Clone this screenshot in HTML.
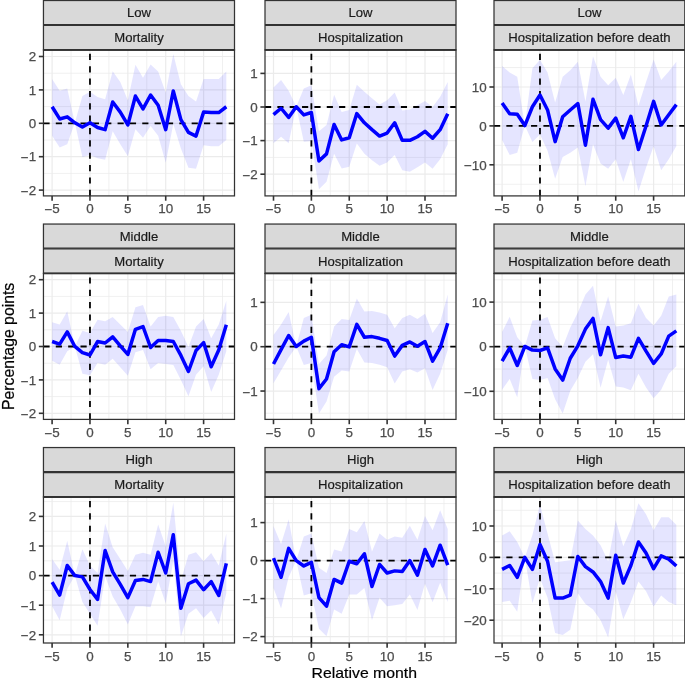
<!DOCTYPE html>
<html><head><meta charset="utf-8"><title>Event study plot</title><style>
html,body{margin:0;padding:0;background:#fff;}
body{width:685px;height:682px;overflow:hidden;}
svg{display:block;}
text{font-family:"Liberation Sans",Arial,Helvetica,sans-serif;}
.s{font-size:13.1px;fill:#1A1A1A;stroke:#1A1A1A;stroke-width:0.2px;text-anchor:middle;}
.ay{font-size:13.4px;fill:#4D4D4D;stroke:#4D4D4D;stroke-width:0.25px;text-anchor:end;}
.ax{font-size:13.4px;fill:#4D4D4D;stroke:#4D4D4D;stroke-width:0.25px;text-anchor:middle;}
.t{font-size:15.8px;fill:#000;stroke:#000;stroke-width:0.2px;}
</style></head>
<body>
<svg width="685" height="682" viewBox="0 0 685 682">
<rect x="0" y="0" width="685" height="682" fill="#FFFFFF"/>
<clipPath id="c00"><rect x="43.45" y="49.9" width="191.05" height="146"/></clipPath>
<g clip-path="url(#c00)">
<line x1="43.45" x2="234.5" y1="190.1" y2="190.1" stroke="#EBEBEB" stroke-width="1.2"/>
<line x1="43.45" x2="234.5" y1="173.4" y2="173.4" stroke="#EBEBEB" stroke-width="0.75"/>
<line x1="43.45" x2="234.5" y1="156.7" y2="156.7" stroke="#EBEBEB" stroke-width="1.2"/>
<line x1="43.45" x2="234.5" y1="140" y2="140" stroke="#EBEBEB" stroke-width="0.75"/>
<line x1="43.45" x2="234.5" y1="123.3" y2="123.3" stroke="#EBEBEB" stroke-width="1.2"/>
<line x1="43.45" x2="234.5" y1="106.6" y2="106.6" stroke="#EBEBEB" stroke-width="0.75"/>
<line x1="43.45" x2="234.5" y1="89.9" y2="89.9" stroke="#EBEBEB" stroke-width="1.2"/>
<line x1="43.45" x2="234.5" y1="73.2" y2="73.2" stroke="#EBEBEB" stroke-width="0.75"/>
<line x1="43.45" x2="234.5" y1="56.5" y2="56.5" stroke="#EBEBEB" stroke-width="1.2"/>
<line x1="52.1" x2="52.1" y1="49.9" y2="195.9" stroke="#EBEBEB" stroke-width="1.2"/>
<line x1="71.04" x2="71.04" y1="49.9" y2="195.9" stroke="#EBEBEB" stroke-width="0.75"/>
<line x1="89.97" x2="89.97" y1="49.9" y2="195.9" stroke="#EBEBEB" stroke-width="1.2"/>
<line x1="108.91" x2="108.91" y1="49.9" y2="195.9" stroke="#EBEBEB" stroke-width="0.75"/>
<line x1="127.85" x2="127.85" y1="49.9" y2="195.9" stroke="#EBEBEB" stroke-width="1.2"/>
<line x1="146.79" x2="146.79" y1="49.9" y2="195.9" stroke="#EBEBEB" stroke-width="0.75"/>
<line x1="165.72" x2="165.72" y1="49.9" y2="195.9" stroke="#EBEBEB" stroke-width="1.2"/>
<line x1="184.66" x2="184.66" y1="49.9" y2="195.9" stroke="#EBEBEB" stroke-width="0.75"/>
<line x1="203.6" x2="203.6" y1="49.9" y2="195.9" stroke="#EBEBEB" stroke-width="1.2"/>
<line x1="222.54" x2="222.54" y1="49.9" y2="195.9" stroke="#EBEBEB" stroke-width="0.75"/>
<polygon points="52.1,78.91 59.68,90.69 67.25,88.54 74.83,122.81 82.4,96.04 89.97,91.76 97.55,97.11 105.12,99.25 112.7,71.2 120.28,82.12 127.85,100.32 135.43,64.78 143,77.84 150.58,64.56 158.15,71.41 165.72,92.4 173.3,54.07 180.88,84.26 188.45,96.04 196.03,101.39 203.6,78.91 211.18,78.91 218.75,78.91 226.32,71.41 226.32,139.94 218.75,146.36 211.18,146.36 203.6,145.29 196.03,168.84 188.45,167.77 180.88,148.5 173.3,123.88 165.72,162.63 158.15,135.65 150.58,126.02 143,137.79 135.43,129.23 127.85,156.21 120.28,144.22 112.7,131.37 105.12,159.64 97.55,158.14 89.97,154.93 82.4,157.07 74.83,122.81 67.25,144.22 59.68,147.43 52.1,135.65" fill="#0000FF" fill-opacity="0.1"/>
<line x1="43.45" x2="234.5" y1="123.3" y2="123.3" stroke="#000" stroke-width="1.8" stroke-dasharray="6.175 6.175"/>
<line x1="89.97" x2="89.97" y1="195.9" y2="49.9" stroke="#000" stroke-width="1.8" stroke-dasharray="6.175 6.175"/>
<polyline points="52.1,106.75 59.68,118.95 67.25,116.81 74.83,122.81 82.4,127.09 89.97,122.81 97.55,127.52 105.12,129.66 112.7,102.03 120.28,112.1 127.85,124.95 135.43,96.04 143,108.89 150.58,94.97 158.15,105.25 165.72,129.66 173.3,90.9 180.88,119.59 188.45,132.44 196.03,136.08 203.6,112.1 211.18,112.53 218.75,112.53 226.32,106.75" fill="none" stroke="#0000FF" stroke-width="3.5" stroke-linejoin="round" stroke-linecap="butt"/>
</g>
<rect x="43.45" y="49.9" width="191.05" height="146" fill="none" stroke="#333333" stroke-width="1.25"/>
<rect x="43.45" y="0.5" width="191.05" height="49.4" fill="#D9D9D9" stroke="#333333" stroke-width="1.25"/>
<line x1="43.45" x2="234.5" y1="24.55" y2="24.55" stroke="#333333" stroke-width="1.25"/>
<line x1="43.45" x2="234.5" y1="25.45" y2="25.45" stroke="#333333" stroke-width="1.25"/>
<line x1="43.45" x2="234.5" y1="49.5" y2="49.5" stroke="#333333" stroke-width="1.25"/>
<line x1="43.45" x2="234.5" y1="50.2" y2="50.2" stroke="#333333" stroke-width="1.25"/>
<text x="138.97" y="17.4" class="s">Low</text>
<text x="138.97" y="42.05" class="s">Mortality</text>
<line x1="38.85" x2="43.45" y1="56.5" y2="56.5" stroke="#333333" stroke-width="1.6"/>
<text x="36.15" y="61.25" class="ay">2</text>
<line x1="38.85" x2="43.45" y1="89.9" y2="89.9" stroke="#333333" stroke-width="1.6"/>
<text x="36.15" y="94.65" class="ay">1</text>
<line x1="38.85" x2="43.45" y1="123.3" y2="123.3" stroke="#333333" stroke-width="1.6"/>
<text x="36.15" y="128.05" class="ay">0</text>
<line x1="38.85" x2="43.45" y1="156.7" y2="156.7" stroke="#333333" stroke-width="1.6"/>
<text x="36.15" y="161.45" class="ay"><tspan dy="0.9">−</tspan><tspan dy="-0.9">1</tspan></text>
<line x1="38.85" x2="43.45" y1="190.1" y2="190.1" stroke="#333333" stroke-width="1.6"/>
<text x="36.15" y="194.85" class="ay"><tspan dy="0.9">−</tspan><tspan dy="-0.9">2</tspan></text>
<line x1="52.1" x2="52.1" y1="195.9" y2="200.7" stroke="#333333" stroke-width="1.6"/>
<text x="52.1" y="213.4" class="ax"><tspan dy="0.9">−</tspan><tspan dy="-0.9">5</tspan></text>
<line x1="89.97" x2="89.97" y1="195.9" y2="200.7" stroke="#333333" stroke-width="1.6"/>
<text x="89.97" y="213.4" class="ax">0</text>
<line x1="127.85" x2="127.85" y1="195.9" y2="200.7" stroke="#333333" stroke-width="1.6"/>
<text x="127.85" y="213.4" class="ax">5</text>
<line x1="165.72" x2="165.72" y1="195.9" y2="200.7" stroke="#333333" stroke-width="1.6"/>
<text x="165.72" y="213.4" class="ax">10</text>
<line x1="203.6" x2="203.6" y1="195.9" y2="200.7" stroke="#333333" stroke-width="1.6"/>
<text x="203.6" y="213.4" class="ax">15</text>
<clipPath id="c01"><rect x="265" y="49.9" width="191" height="146"/></clipPath>
<g clip-path="url(#c01)">
<line x1="265" x2="456" y1="191" y2="191" stroke="#EBEBEB" stroke-width="0.75"/>
<line x1="265" x2="456" y1="174.2" y2="174.2" stroke="#EBEBEB" stroke-width="1.2"/>
<line x1="265" x2="456" y1="157.4" y2="157.4" stroke="#EBEBEB" stroke-width="0.75"/>
<line x1="265" x2="456" y1="140.6" y2="140.6" stroke="#EBEBEB" stroke-width="1.2"/>
<line x1="265" x2="456" y1="123.8" y2="123.8" stroke="#EBEBEB" stroke-width="0.75"/>
<line x1="265" x2="456" y1="107" y2="107" stroke="#EBEBEB" stroke-width="1.2"/>
<line x1="265" x2="456" y1="90.2" y2="90.2" stroke="#EBEBEB" stroke-width="0.75"/>
<line x1="265" x2="456" y1="73.4" y2="73.4" stroke="#EBEBEB" stroke-width="1.2"/>
<line x1="265" x2="456" y1="56.6" y2="56.6" stroke="#EBEBEB" stroke-width="0.75"/>
<line x1="273.5" x2="273.5" y1="49.9" y2="195.9" stroke="#EBEBEB" stroke-width="1.2"/>
<line x1="292.44" x2="292.44" y1="49.9" y2="195.9" stroke="#EBEBEB" stroke-width="0.75"/>
<line x1="311.38" x2="311.38" y1="49.9" y2="195.9" stroke="#EBEBEB" stroke-width="1.2"/>
<line x1="330.31" x2="330.31" y1="49.9" y2="195.9" stroke="#EBEBEB" stroke-width="0.75"/>
<line x1="349.25" x2="349.25" y1="49.9" y2="195.9" stroke="#EBEBEB" stroke-width="1.2"/>
<line x1="368.19" x2="368.19" y1="49.9" y2="195.9" stroke="#EBEBEB" stroke-width="0.75"/>
<line x1="387.12" x2="387.12" y1="49.9" y2="195.9" stroke="#EBEBEB" stroke-width="1.2"/>
<line x1="406.06" x2="406.06" y1="49.9" y2="195.9" stroke="#EBEBEB" stroke-width="0.75"/>
<line x1="425" x2="425" y1="49.9" y2="195.9" stroke="#EBEBEB" stroke-width="1.2"/>
<line x1="443.94" x2="443.94" y1="49.9" y2="195.9" stroke="#EBEBEB" stroke-width="0.75"/>
<polygon points="273.5,87.47 281.07,79.98 288.65,90.69 296.23,106.75 303.8,88.54 311.38,85.33 318.95,131.37 326.52,124.95 334.1,94.75 341.68,112.1 349.25,109.96 356.82,84.69 364.4,91.76 371.98,98.18 379.55,104.6 387.12,100.32 394.7,92.4 402.27,110.39 409.85,109.53 417.43,105.25 425,100.96 432.58,106.96 440.15,96.68 447.73,82.12 447.73,144.22 440.15,159.21 432.58,168.84 425,162.42 417.43,167.34 409.85,171.63 402.27,170.34 394.7,154.93 387.12,162.42 379.55,165.63 371.98,160.28 364.4,153.85 356.82,143.58 349.25,166.7 341.68,168.42 334.1,153.85 326.52,181.69 318.95,189.19 311.38,141.01 303.8,141.65 296.23,106.75 288.65,143.15 281.07,136.72 273.5,143.15" fill="#0000FF" fill-opacity="0.1"/>
<line x1="265" x2="456" y1="107" y2="107" stroke="#000" stroke-width="1.8" stroke-dasharray="6.175 6.175"/>
<line x1="311.38" x2="311.38" y1="195.9" y2="49.9" stroke="#000" stroke-width="1.8" stroke-dasharray="6.175 6.175"/>
<polyline points="273.5,114.67 281.07,108.24 288.65,117.45 296.23,106.75 303.8,114.88 311.38,112.53 318.95,160.92 326.52,153.85 334.1,124.52 341.68,139.94 349.25,137.79 356.82,113.6 364.4,122.81 371.98,129.66 379.55,136.08 387.12,133.08 394.7,122.81 402.27,140.36 409.85,140.36 417.43,136.72 425,131.37 432.58,138.22 440.15,129.66 447.73,113.81" fill="none" stroke="#0000FF" stroke-width="3.5" stroke-linejoin="round" stroke-linecap="butt"/>
</g>
<rect x="265" y="49.9" width="191" height="146" fill="none" stroke="#333333" stroke-width="1.25"/>
<rect x="265" y="0.5" width="191" height="49.4" fill="#D9D9D9" stroke="#333333" stroke-width="1.25"/>
<line x1="265" x2="456" y1="24.55" y2="24.55" stroke="#333333" stroke-width="1.25"/>
<line x1="265" x2="456" y1="25.45" y2="25.45" stroke="#333333" stroke-width="1.25"/>
<line x1="265" x2="456" y1="49.5" y2="49.5" stroke="#333333" stroke-width="1.25"/>
<line x1="265" x2="456" y1="50.2" y2="50.2" stroke="#333333" stroke-width="1.25"/>
<text x="360.5" y="17.4" class="s">Low</text>
<text x="360.5" y="42.05" class="s">Hospitalization</text>
<line x1="260.4" x2="265" y1="73.4" y2="73.4" stroke="#333333" stroke-width="1.6"/>
<text x="257.7" y="78.15" class="ay">1</text>
<line x1="260.4" x2="265" y1="107" y2="107" stroke="#333333" stroke-width="1.6"/>
<text x="257.7" y="111.75" class="ay">0</text>
<line x1="260.4" x2="265" y1="140.6" y2="140.6" stroke="#333333" stroke-width="1.6"/>
<text x="257.7" y="145.35" class="ay"><tspan dy="0.9">−</tspan><tspan dy="-0.9">1</tspan></text>
<line x1="260.4" x2="265" y1="174.2" y2="174.2" stroke="#333333" stroke-width="1.6"/>
<text x="257.7" y="178.95" class="ay"><tspan dy="0.9">−</tspan><tspan dy="-0.9">2</tspan></text>
<line x1="273.5" x2="273.5" y1="195.9" y2="200.7" stroke="#333333" stroke-width="1.6"/>
<text x="273.5" y="213.4" class="ax"><tspan dy="0.9">−</tspan><tspan dy="-0.9">5</tspan></text>
<line x1="311.38" x2="311.38" y1="195.9" y2="200.7" stroke="#333333" stroke-width="1.6"/>
<text x="311.38" y="213.4" class="ax">0</text>
<line x1="349.25" x2="349.25" y1="195.9" y2="200.7" stroke="#333333" stroke-width="1.6"/>
<text x="349.25" y="213.4" class="ax">5</text>
<line x1="387.12" x2="387.12" y1="195.9" y2="200.7" stroke="#333333" stroke-width="1.6"/>
<text x="387.12" y="213.4" class="ax">10</text>
<line x1="425" x2="425" y1="195.9" y2="200.7" stroke="#333333" stroke-width="1.6"/>
<text x="425" y="213.4" class="ax">15</text>
<clipPath id="c02"><rect x="494" y="49.9" width="190.8" height="146"/></clipPath>
<g clip-path="url(#c02)">
<line x1="494" x2="684.8" y1="184.25" y2="184.25" stroke="#EBEBEB" stroke-width="0.75"/>
<line x1="494" x2="684.8" y1="164.8" y2="164.8" stroke="#EBEBEB" stroke-width="1.2"/>
<line x1="494" x2="684.8" y1="145.35" y2="145.35" stroke="#EBEBEB" stroke-width="0.75"/>
<line x1="494" x2="684.8" y1="125.9" y2="125.9" stroke="#EBEBEB" stroke-width="1.2"/>
<line x1="494" x2="684.8" y1="106.45" y2="106.45" stroke="#EBEBEB" stroke-width="0.75"/>
<line x1="494" x2="684.8" y1="87" y2="87" stroke="#EBEBEB" stroke-width="1.2"/>
<line x1="494" x2="684.8" y1="67.55" y2="67.55" stroke="#EBEBEB" stroke-width="0.75"/>
<line x1="502.1" x2="502.1" y1="49.9" y2="195.9" stroke="#EBEBEB" stroke-width="1.2"/>
<line x1="521.04" x2="521.04" y1="49.9" y2="195.9" stroke="#EBEBEB" stroke-width="0.75"/>
<line x1="539.98" x2="539.98" y1="49.9" y2="195.9" stroke="#EBEBEB" stroke-width="1.2"/>
<line x1="558.91" x2="558.91" y1="49.9" y2="195.9" stroke="#EBEBEB" stroke-width="0.75"/>
<line x1="577.85" x2="577.85" y1="49.9" y2="195.9" stroke="#EBEBEB" stroke-width="1.2"/>
<line x1="596.79" x2="596.79" y1="49.9" y2="195.9" stroke="#EBEBEB" stroke-width="0.75"/>
<line x1="615.73" x2="615.73" y1="49.9" y2="195.9" stroke="#EBEBEB" stroke-width="1.2"/>
<line x1="634.66" x2="634.66" y1="49.9" y2="195.9" stroke="#EBEBEB" stroke-width="0.75"/>
<line x1="653.6" x2="653.6" y1="49.9" y2="195.9" stroke="#EBEBEB" stroke-width="1.2"/>
<line x1="672.54" x2="672.54" y1="49.9" y2="195.9" stroke="#EBEBEB" stroke-width="0.75"/>
<polygon points="502.1,66.06 509.68,72.48 517.25,76.77 524.83,125.59 532.4,68.2 539.98,59.64 547.55,72.48 555.12,102.46 562.7,76.77 570.27,70.34 577.85,61.78 585.43,101.39 593,56.21 600.58,76.77 608.15,85.33 615.73,77.84 623.3,94.97 630.88,74.41 638.45,105.67 646.03,82.12 653.6,59.42 661.18,79.98 668.75,71.41 676.33,61.78 676.33,146.36 668.75,159.21 661.18,170.13 653.6,146.36 646.03,167.77 638.45,191.54 630.88,159.21 623.3,181.91 615.73,159.21 608.15,168.84 600.58,163.49 593,144.22 585.43,186.19 577.85,147.43 570.27,152.78 562.7,157.07 555.12,178.69 547.55,150.64 539.98,134.58 532.4,142.08 524.83,125.59 517.25,152.78 509.68,154.93 502.1,139.94" fill="#0000FF" fill-opacity="0.1"/>
<line x1="494" x2="684.8" y1="125.9" y2="125.9" stroke="#000" stroke-width="1.8" stroke-dasharray="6.175 6.175"/>
<line x1="539.98" x2="539.98" y1="195.9" y2="49.9" stroke="#000" stroke-width="1.8" stroke-dasharray="6.175 6.175"/>
<polyline points="502.1,103.1 509.68,113.81 517.25,114.24 524.83,125.59 532.4,106.75 539.98,94.97 547.55,109.96 555.12,141.65 562.7,116.81 570.27,109.96 577.85,103.53 585.43,145.29 593,99.25 600.58,119.59 608.15,128.16 615.73,118.09 623.3,137.79 630.88,116.38 638.45,149.57 646.03,126.02 653.6,101.39 661.18,124.95 668.75,114.67 676.33,104.6" fill="none" stroke="#0000FF" stroke-width="3.5" stroke-linejoin="round" stroke-linecap="butt"/>
</g>
<rect x="494" y="49.9" width="190.8" height="146" fill="none" stroke="#333333" stroke-width="1.25"/>
<rect x="494" y="0.5" width="190.8" height="49.4" fill="#D9D9D9" stroke="#333333" stroke-width="1.25"/>
<line x1="494" x2="684.8" y1="24.55" y2="24.55" stroke="#333333" stroke-width="1.25"/>
<line x1="494" x2="684.8" y1="25.45" y2="25.45" stroke="#333333" stroke-width="1.25"/>
<line x1="494" x2="684.8" y1="49.5" y2="49.5" stroke="#333333" stroke-width="1.25"/>
<line x1="494" x2="684.8" y1="50.2" y2="50.2" stroke="#333333" stroke-width="1.25"/>
<text x="589.4" y="17.4" class="s">Low</text>
<text x="589.4" y="42.05" class="s">Hospitalization before death</text>
<line x1="489.4" x2="494" y1="87" y2="87" stroke="#333333" stroke-width="1.6"/>
<text x="486.7" y="91.75" class="ay">10</text>
<line x1="489.4" x2="494" y1="125.9" y2="125.9" stroke="#333333" stroke-width="1.6"/>
<text x="486.7" y="130.65" class="ay">0</text>
<line x1="489.4" x2="494" y1="164.8" y2="164.8" stroke="#333333" stroke-width="1.6"/>
<text x="486.7" y="169.55" class="ay"><tspan dy="0.9">−</tspan><tspan dy="-0.9">10</tspan></text>
<line x1="502.1" x2="502.1" y1="195.9" y2="200.7" stroke="#333333" stroke-width="1.6"/>
<text x="502.1" y="213.4" class="ax"><tspan dy="0.9">−</tspan><tspan dy="-0.9">5</tspan></text>
<line x1="539.98" x2="539.98" y1="195.9" y2="200.7" stroke="#333333" stroke-width="1.6"/>
<text x="539.98" y="213.4" class="ax">0</text>
<line x1="577.85" x2="577.85" y1="195.9" y2="200.7" stroke="#333333" stroke-width="1.6"/>
<text x="577.85" y="213.4" class="ax">5</text>
<line x1="615.73" x2="615.73" y1="195.9" y2="200.7" stroke="#333333" stroke-width="1.6"/>
<text x="615.73" y="213.4" class="ax">10</text>
<line x1="653.6" x2="653.6" y1="195.9" y2="200.7" stroke="#333333" stroke-width="1.6"/>
<text x="653.6" y="213.4" class="ax">15</text>
<clipPath id="c10"><rect x="43.45" y="273.4" width="191.05" height="146"/></clipPath>
<g clip-path="url(#c10)">
<line x1="43.45" x2="234.5" y1="413.3" y2="413.3" stroke="#EBEBEB" stroke-width="1.2"/>
<line x1="43.45" x2="234.5" y1="396.6" y2="396.6" stroke="#EBEBEB" stroke-width="0.75"/>
<line x1="43.45" x2="234.5" y1="379.9" y2="379.9" stroke="#EBEBEB" stroke-width="1.2"/>
<line x1="43.45" x2="234.5" y1="363.2" y2="363.2" stroke="#EBEBEB" stroke-width="0.75"/>
<line x1="43.45" x2="234.5" y1="346.5" y2="346.5" stroke="#EBEBEB" stroke-width="1.2"/>
<line x1="43.45" x2="234.5" y1="329.8" y2="329.8" stroke="#EBEBEB" stroke-width="0.75"/>
<line x1="43.45" x2="234.5" y1="313.1" y2="313.1" stroke="#EBEBEB" stroke-width="1.2"/>
<line x1="43.45" x2="234.5" y1="296.4" y2="296.4" stroke="#EBEBEB" stroke-width="0.75"/>
<line x1="43.45" x2="234.5" y1="279.7" y2="279.7" stroke="#EBEBEB" stroke-width="1.2"/>
<line x1="52.1" x2="52.1" y1="273.4" y2="419.4" stroke="#EBEBEB" stroke-width="1.2"/>
<line x1="71.04" x2="71.04" y1="273.4" y2="419.4" stroke="#EBEBEB" stroke-width="0.75"/>
<line x1="89.97" x2="89.97" y1="273.4" y2="419.4" stroke="#EBEBEB" stroke-width="1.2"/>
<line x1="108.91" x2="108.91" y1="273.4" y2="419.4" stroke="#EBEBEB" stroke-width="0.75"/>
<line x1="127.85" x2="127.85" y1="273.4" y2="419.4" stroke="#EBEBEB" stroke-width="1.2"/>
<line x1="146.79" x2="146.79" y1="273.4" y2="419.4" stroke="#EBEBEB" stroke-width="0.75"/>
<line x1="165.72" x2="165.72" y1="273.4" y2="419.4" stroke="#EBEBEB" stroke-width="1.2"/>
<line x1="184.66" x2="184.66" y1="273.4" y2="419.4" stroke="#EBEBEB" stroke-width="0.75"/>
<line x1="203.6" x2="203.6" y1="273.4" y2="419.4" stroke="#EBEBEB" stroke-width="1.2"/>
<line x1="222.54" x2="222.54" y1="273.4" y2="419.4" stroke="#EBEBEB" stroke-width="0.75"/>
<polygon points="52.1,322.25 59.68,324.39 67.25,311.33 74.83,346.45 82.4,330.82 89.97,332.96 97.55,319.68 105.12,321.18 112.7,316.9 120.28,324.39 127.85,331.89 135.43,307.26 143,305.12 150.58,326.53 158.15,316.9 165.72,315.83 173.3,316.9 180.88,330.82 188.45,346.88 196.03,326.53 203.6,319.04 211.18,338.31 218.75,324.39 226.32,300.84 226.32,351.16 218.75,374.71 211.18,392.06 203.6,366.15 196.03,374.71 188.45,396.34 180.88,380.07 173.3,365.08 165.72,364.01 158.15,362.94 150.58,369.36 143,350.09 135.43,352.23 127.85,375.78 120.28,367.22 112.7,358.65 105.12,364.65 97.55,362.94 89.97,375.36 82.4,373.64 74.83,346.45 67.25,351.16 59.68,364.65 52.1,360.79" fill="#0000FF" fill-opacity="0.1"/>
<line x1="43.45" x2="234.5" y1="346.5" y2="346.5" stroke="#000" stroke-width="1.8" stroke-dasharray="6.175 6.175"/>
<line x1="89.97" x2="89.97" y1="419.4" y2="273.4" stroke="#000" stroke-width="1.8" stroke-dasharray="6.175 6.175"/>
<polyline points="52.1,341.52 59.68,344.09 67.25,331.89 74.83,346.45 82.4,352.66 89.97,355.01 97.55,341.52 105.12,343.02 112.7,336.81 120.28,345.81 127.85,354.37 135.43,329.32 143,326.53 150.58,347.52 158.15,340.45 165.72,340.45 173.3,341.52 180.88,355.44 188.45,371.5 196.03,350.52 203.6,342.59 211.18,366.79 218.75,350.09 226.32,324.82" fill="none" stroke="#0000FF" stroke-width="3.5" stroke-linejoin="round" stroke-linecap="butt"/>
</g>
<rect x="43.45" y="273.4" width="191.05" height="146" fill="none" stroke="#333333" stroke-width="1.25"/>
<rect x="43.45" y="224.05" width="191.05" height="49.35" fill="#D9D9D9" stroke="#333333" stroke-width="1.25"/>
<line x1="43.45" x2="234.5" y1="248.05" y2="248.05" stroke="#333333" stroke-width="1.25"/>
<line x1="43.45" x2="234.5" y1="248.95" y2="248.95" stroke="#333333" stroke-width="1.25"/>
<line x1="43.45" x2="234.5" y1="273" y2="273" stroke="#333333" stroke-width="1.25"/>
<line x1="43.45" x2="234.5" y1="273.7" y2="273.7" stroke="#333333" stroke-width="1.25"/>
<text x="138.97" y="240.93" class="s">Middle</text>
<text x="138.97" y="265.55" class="s">Mortality</text>
<line x1="38.85" x2="43.45" y1="279.7" y2="279.7" stroke="#333333" stroke-width="1.6"/>
<text x="36.15" y="284.45" class="ay">2</text>
<line x1="38.85" x2="43.45" y1="313.1" y2="313.1" stroke="#333333" stroke-width="1.6"/>
<text x="36.15" y="317.85" class="ay">1</text>
<line x1="38.85" x2="43.45" y1="346.5" y2="346.5" stroke="#333333" stroke-width="1.6"/>
<text x="36.15" y="351.25" class="ay">0</text>
<line x1="38.85" x2="43.45" y1="379.9" y2="379.9" stroke="#333333" stroke-width="1.6"/>
<text x="36.15" y="384.65" class="ay"><tspan dy="0.9">−</tspan><tspan dy="-0.9">1</tspan></text>
<line x1="38.85" x2="43.45" y1="413.3" y2="413.3" stroke="#333333" stroke-width="1.6"/>
<text x="36.15" y="418.05" class="ay"><tspan dy="0.9">−</tspan><tspan dy="-0.9">2</tspan></text>
<line x1="52.1" x2="52.1" y1="419.4" y2="424.2" stroke="#333333" stroke-width="1.6"/>
<text x="52.1" y="436.9" class="ax"><tspan dy="0.9">−</tspan><tspan dy="-0.9">5</tspan></text>
<line x1="89.97" x2="89.97" y1="419.4" y2="424.2" stroke="#333333" stroke-width="1.6"/>
<text x="89.97" y="436.9" class="ax">0</text>
<line x1="127.85" x2="127.85" y1="419.4" y2="424.2" stroke="#333333" stroke-width="1.6"/>
<text x="127.85" y="436.9" class="ax">5</text>
<line x1="165.72" x2="165.72" y1="419.4" y2="424.2" stroke="#333333" stroke-width="1.6"/>
<text x="165.72" y="436.9" class="ax">10</text>
<line x1="203.6" x2="203.6" y1="419.4" y2="424.2" stroke="#333333" stroke-width="1.6"/>
<text x="203.6" y="436.9" class="ax">15</text>
<clipPath id="c11"><rect x="265" y="273.4" width="191" height="146"/></clipPath>
<g clip-path="url(#c11)">
<line x1="265" x2="456" y1="413.23" y2="413.23" stroke="#EBEBEB" stroke-width="0.75"/>
<line x1="265" x2="456" y1="391.05" y2="391.05" stroke="#EBEBEB" stroke-width="1.2"/>
<line x1="265" x2="456" y1="368.88" y2="368.88" stroke="#EBEBEB" stroke-width="0.75"/>
<line x1="265" x2="456" y1="346.7" y2="346.7" stroke="#EBEBEB" stroke-width="1.2"/>
<line x1="265" x2="456" y1="324.52" y2="324.52" stroke="#EBEBEB" stroke-width="0.75"/>
<line x1="265" x2="456" y1="302.35" y2="302.35" stroke="#EBEBEB" stroke-width="1.2"/>
<line x1="265" x2="456" y1="280.17" y2="280.17" stroke="#EBEBEB" stroke-width="0.75"/>
<line x1="273.5" x2="273.5" y1="273.4" y2="419.4" stroke="#EBEBEB" stroke-width="1.2"/>
<line x1="292.44" x2="292.44" y1="273.4" y2="419.4" stroke="#EBEBEB" stroke-width="0.75"/>
<line x1="311.38" x2="311.38" y1="273.4" y2="419.4" stroke="#EBEBEB" stroke-width="1.2"/>
<line x1="330.31" x2="330.31" y1="273.4" y2="419.4" stroke="#EBEBEB" stroke-width="0.75"/>
<line x1="349.25" x2="349.25" y1="273.4" y2="419.4" stroke="#EBEBEB" stroke-width="1.2"/>
<line x1="368.19" x2="368.19" y1="273.4" y2="419.4" stroke="#EBEBEB" stroke-width="0.75"/>
<line x1="387.12" x2="387.12" y1="273.4" y2="419.4" stroke="#EBEBEB" stroke-width="1.2"/>
<line x1="406.06" x2="406.06" y1="273.4" y2="419.4" stroke="#EBEBEB" stroke-width="0.75"/>
<line x1="425" x2="425" y1="273.4" y2="419.4" stroke="#EBEBEB" stroke-width="1.2"/>
<line x1="443.94" x2="443.94" y1="273.4" y2="419.4" stroke="#EBEBEB" stroke-width="0.75"/>
<polygon points="273.5,335.1 281.07,324.39 288.65,311.97 296.23,346.45 303.8,317.97 311.38,314.76 318.95,364.01 326.52,355.44 334.1,326.53 341.68,319.04 349.25,320.11 356.82,298.48 364.4,311.54 371.98,311.12 379.55,312.61 387.12,314.76 394.7,328.25 402.27,317.97 409.85,314.76 417.43,319.04 425,313.69 432.58,332.96 440.15,322.25 447.73,294.41 447.73,350.09 440.15,373.64 432.58,389.92 425,368.29 417.43,372.57 409.85,369.36 402.27,371.5 394.7,383.49 387.12,367.22 379.55,364.65 371.98,362.94 364.4,362.51 356.82,349.02 349.25,371.5 341.68,370.43 334.1,376.85 326.52,401.48 318.95,413.47 311.38,362.94 303.8,365.08 296.23,346.45 288.65,357.58 281.07,370.43 273.5,383.28" fill="#0000FF" fill-opacity="0.1"/>
<line x1="265" x2="456" y1="346.7" y2="346.7" stroke="#000" stroke-width="1.8" stroke-dasharray="6.175 6.175"/>
<line x1="311.38" x2="311.38" y1="419.4" y2="273.4" stroke="#000" stroke-width="1.8" stroke-dasharray="6.175 6.175"/>
<polyline points="273.5,364.01 281.07,349.66 288.65,335.53 296.23,346.45 303.8,341.09 311.38,337.24 318.95,388.63 326.52,379 334.1,351.8 341.68,344.73 349.25,346.88 356.82,324.39 364.4,337.24 371.98,336.6 379.55,338.31 387.12,340.45 394.7,356.08 402.27,345.38 409.85,341.95 417.43,346.23 425,341.52 432.58,361.22 440.15,347.95 447.73,323.32" fill="none" stroke="#0000FF" stroke-width="3.5" stroke-linejoin="round" stroke-linecap="butt"/>
</g>
<rect x="265" y="273.4" width="191" height="146" fill="none" stroke="#333333" stroke-width="1.25"/>
<rect x="265" y="224.05" width="191" height="49.35" fill="#D9D9D9" stroke="#333333" stroke-width="1.25"/>
<line x1="265" x2="456" y1="248.05" y2="248.05" stroke="#333333" stroke-width="1.25"/>
<line x1="265" x2="456" y1="248.95" y2="248.95" stroke="#333333" stroke-width="1.25"/>
<line x1="265" x2="456" y1="273" y2="273" stroke="#333333" stroke-width="1.25"/>
<line x1="265" x2="456" y1="273.7" y2="273.7" stroke="#333333" stroke-width="1.25"/>
<text x="360.5" y="240.93" class="s">Middle</text>
<text x="360.5" y="265.55" class="s">Hospitalization</text>
<line x1="260.4" x2="265" y1="302.35" y2="302.35" stroke="#333333" stroke-width="1.6"/>
<text x="257.7" y="307.1" class="ay">1</text>
<line x1="260.4" x2="265" y1="346.7" y2="346.7" stroke="#333333" stroke-width="1.6"/>
<text x="257.7" y="351.45" class="ay">0</text>
<line x1="260.4" x2="265" y1="391.05" y2="391.05" stroke="#333333" stroke-width="1.6"/>
<text x="257.7" y="395.8" class="ay"><tspan dy="0.9">−</tspan><tspan dy="-0.9">1</tspan></text>
<line x1="273.5" x2="273.5" y1="419.4" y2="424.2" stroke="#333333" stroke-width="1.6"/>
<text x="273.5" y="436.9" class="ax"><tspan dy="0.9">−</tspan><tspan dy="-0.9">5</tspan></text>
<line x1="311.38" x2="311.38" y1="419.4" y2="424.2" stroke="#333333" stroke-width="1.6"/>
<text x="311.38" y="436.9" class="ax">0</text>
<line x1="349.25" x2="349.25" y1="419.4" y2="424.2" stroke="#333333" stroke-width="1.6"/>
<text x="349.25" y="436.9" class="ax">5</text>
<line x1="387.12" x2="387.12" y1="419.4" y2="424.2" stroke="#333333" stroke-width="1.6"/>
<text x="387.12" y="436.9" class="ax">10</text>
<line x1="425" x2="425" y1="419.4" y2="424.2" stroke="#333333" stroke-width="1.6"/>
<text x="425" y="436.9" class="ax">15</text>
<clipPath id="c12"><rect x="494" y="273.4" width="190.8" height="146"/></clipPath>
<g clip-path="url(#c12)">
<line x1="494" x2="684.8" y1="413.6" y2="413.6" stroke="#EBEBEB" stroke-width="0.75"/>
<line x1="494" x2="684.8" y1="391.3" y2="391.3" stroke="#EBEBEB" stroke-width="1.2"/>
<line x1="494" x2="684.8" y1="369" y2="369" stroke="#EBEBEB" stroke-width="0.75"/>
<line x1="494" x2="684.8" y1="346.7" y2="346.7" stroke="#EBEBEB" stroke-width="1.2"/>
<line x1="494" x2="684.8" y1="324.4" y2="324.4" stroke="#EBEBEB" stroke-width="0.75"/>
<line x1="494" x2="684.8" y1="302.1" y2="302.1" stroke="#EBEBEB" stroke-width="1.2"/>
<line x1="494" x2="684.8" y1="279.8" y2="279.8" stroke="#EBEBEB" stroke-width="0.75"/>
<line x1="502.1" x2="502.1" y1="273.4" y2="419.4" stroke="#EBEBEB" stroke-width="1.2"/>
<line x1="521.04" x2="521.04" y1="273.4" y2="419.4" stroke="#EBEBEB" stroke-width="0.75"/>
<line x1="539.98" x2="539.98" y1="273.4" y2="419.4" stroke="#EBEBEB" stroke-width="1.2"/>
<line x1="558.91" x2="558.91" y1="273.4" y2="419.4" stroke="#EBEBEB" stroke-width="0.75"/>
<line x1="577.85" x2="577.85" y1="273.4" y2="419.4" stroke="#EBEBEB" stroke-width="1.2"/>
<line x1="596.79" x2="596.79" y1="273.4" y2="419.4" stroke="#EBEBEB" stroke-width="0.75"/>
<line x1="615.73" x2="615.73" y1="273.4" y2="419.4" stroke="#EBEBEB" stroke-width="1.2"/>
<line x1="634.66" x2="634.66" y1="273.4" y2="419.4" stroke="#EBEBEB" stroke-width="0.75"/>
<line x1="653.6" x2="653.6" y1="273.4" y2="419.4" stroke="#EBEBEB" stroke-width="1.2"/>
<line x1="672.54" x2="672.54" y1="273.4" y2="419.4" stroke="#EBEBEB" stroke-width="0.75"/>
<polygon points="502.1,331.89 509.68,316.68 517.25,337.24 524.83,346.45 532.4,320.54 539.98,319.68 547.55,316.9 555.12,338.31 562.7,346.88 570.27,327.6 577.85,312.61 585.43,294.41 593,285.85 600.58,321.18 608.15,296.34 615.73,326.53 623.3,325.46 630.88,323.32 638.45,303.84 646.03,317.97 653.6,325.46 661.18,315.83 668.75,296.55 676.33,294.41 676.33,366.15 668.75,373.64 661.18,389.7 653.6,398.27 646.03,387.56 638.45,373.64 630.88,390.34 623.3,387.56 615.73,386.49 608.15,359.72 600.58,387.78 593,354.37 585.43,361.87 577.85,377.93 570.27,390.77 562.7,413.47 555.12,399.34 547.55,377.93 539.98,380.07 532.4,379 524.83,346.45 517.25,397.41 509.68,379 502.1,389.7" fill="#0000FF" fill-opacity="0.1"/>
<line x1="494" x2="684.8" y1="346.7" y2="346.7" stroke="#000" stroke-width="1.8" stroke-dasharray="6.175 6.175"/>
<line x1="539.98" x2="539.98" y1="419.4" y2="273.4" stroke="#000" stroke-width="1.8" stroke-dasharray="6.175 6.175"/>
<polyline points="502.1,361.22 509.68,347.95 517.25,365.51 524.83,346.45 532.4,350.09 539.98,350.52 547.55,347.95 555.12,368.93 562.7,380.07 570.27,358.22 577.85,345.81 585.43,329.1 593,318.4 600.58,354.8 608.15,327.6 615.73,357.58 623.3,356.08 630.88,357.15 638.45,338.31 646.03,351.16 653.6,363.36 661.18,353.94 668.75,336.17 676.33,330.82" fill="none" stroke="#0000FF" stroke-width="3.5" stroke-linejoin="round" stroke-linecap="butt"/>
</g>
<rect x="494" y="273.4" width="190.8" height="146" fill="none" stroke="#333333" stroke-width="1.25"/>
<rect x="494" y="224.05" width="190.8" height="49.35" fill="#D9D9D9" stroke="#333333" stroke-width="1.25"/>
<line x1="494" x2="684.8" y1="248.05" y2="248.05" stroke="#333333" stroke-width="1.25"/>
<line x1="494" x2="684.8" y1="248.95" y2="248.95" stroke="#333333" stroke-width="1.25"/>
<line x1="494" x2="684.8" y1="273" y2="273" stroke="#333333" stroke-width="1.25"/>
<line x1="494" x2="684.8" y1="273.7" y2="273.7" stroke="#333333" stroke-width="1.25"/>
<text x="589.4" y="240.93" class="s">Middle</text>
<text x="589.4" y="265.55" class="s">Hospitalization before death</text>
<line x1="489.4" x2="494" y1="302.1" y2="302.1" stroke="#333333" stroke-width="1.6"/>
<text x="486.7" y="306.85" class="ay">10</text>
<line x1="489.4" x2="494" y1="346.7" y2="346.7" stroke="#333333" stroke-width="1.6"/>
<text x="486.7" y="351.45" class="ay">0</text>
<line x1="489.4" x2="494" y1="391.3" y2="391.3" stroke="#333333" stroke-width="1.6"/>
<text x="486.7" y="396.05" class="ay"><tspan dy="0.9">−</tspan><tspan dy="-0.9">10</tspan></text>
<line x1="502.1" x2="502.1" y1="419.4" y2="424.2" stroke="#333333" stroke-width="1.6"/>
<text x="502.1" y="436.9" class="ax"><tspan dy="0.9">−</tspan><tspan dy="-0.9">5</tspan></text>
<line x1="539.98" x2="539.98" y1="419.4" y2="424.2" stroke="#333333" stroke-width="1.6"/>
<text x="539.98" y="436.9" class="ax">0</text>
<line x1="577.85" x2="577.85" y1="419.4" y2="424.2" stroke="#333333" stroke-width="1.6"/>
<text x="577.85" y="436.9" class="ax">5</text>
<line x1="615.73" x2="615.73" y1="419.4" y2="424.2" stroke="#333333" stroke-width="1.6"/>
<text x="615.73" y="436.9" class="ax">10</text>
<line x1="653.6" x2="653.6" y1="419.4" y2="424.2" stroke="#333333" stroke-width="1.6"/>
<text x="653.6" y="436.9" class="ax">15</text>
<clipPath id="c20"><rect x="43.45" y="497" width="191.05" height="146"/></clipPath>
<g clip-path="url(#c20)">
<line x1="43.45" x2="234.5" y1="634.8" y2="634.8" stroke="#EBEBEB" stroke-width="1.2"/>
<line x1="43.45" x2="234.5" y1="620" y2="620" stroke="#EBEBEB" stroke-width="0.75"/>
<line x1="43.45" x2="234.5" y1="605.2" y2="605.2" stroke="#EBEBEB" stroke-width="1.2"/>
<line x1="43.45" x2="234.5" y1="590.4" y2="590.4" stroke="#EBEBEB" stroke-width="0.75"/>
<line x1="43.45" x2="234.5" y1="575.6" y2="575.6" stroke="#EBEBEB" stroke-width="1.2"/>
<line x1="43.45" x2="234.5" y1="560.8" y2="560.8" stroke="#EBEBEB" stroke-width="0.75"/>
<line x1="43.45" x2="234.5" y1="546" y2="546" stroke="#EBEBEB" stroke-width="1.2"/>
<line x1="43.45" x2="234.5" y1="531.2" y2="531.2" stroke="#EBEBEB" stroke-width="0.75"/>
<line x1="43.45" x2="234.5" y1="516.4" y2="516.4" stroke="#EBEBEB" stroke-width="1.2"/>
<line x1="43.45" x2="234.5" y1="501.6" y2="501.6" stroke="#EBEBEB" stroke-width="0.75"/>
<line x1="52.1" x2="52.1" y1="497" y2="643" stroke="#EBEBEB" stroke-width="1.2"/>
<line x1="71.04" x2="71.04" y1="497" y2="643" stroke="#EBEBEB" stroke-width="0.75"/>
<line x1="89.97" x2="89.97" y1="497" y2="643" stroke="#EBEBEB" stroke-width="1.2"/>
<line x1="108.91" x2="108.91" y1="497" y2="643" stroke="#EBEBEB" stroke-width="0.75"/>
<line x1="127.85" x2="127.85" y1="497" y2="643" stroke="#EBEBEB" stroke-width="1.2"/>
<line x1="146.79" x2="146.79" y1="497" y2="643" stroke="#EBEBEB" stroke-width="0.75"/>
<line x1="165.72" x2="165.72" y1="497" y2="643" stroke="#EBEBEB" stroke-width="1.2"/>
<line x1="184.66" x2="184.66" y1="497" y2="643" stroke="#EBEBEB" stroke-width="0.75"/>
<line x1="203.6" x2="203.6" y1="497" y2="643" stroke="#EBEBEB" stroke-width="1.2"/>
<line x1="222.54" x2="222.54" y1="497" y2="643" stroke="#EBEBEB" stroke-width="0.75"/>
<polygon points="52.1,559.1 59.68,569.81 67.25,540.68 74.83,575.59 82.4,549.25 89.97,565.52 97.55,573.02 105.12,523.55 112.7,547.32 120.28,559.1 127.85,570.88 135.43,554.82 143,552.67 150.58,554.82 158.15,524.62 165.72,546.25 173.3,502.57 180.88,580.51 188.45,554.82 196.03,552.25 203.6,561.24 211.18,553.1 218.75,565.52 226.32,533.4 226.32,593.36 218.75,624.62 211.18,610.49 203.6,617.99 196.03,608.35 188.45,613.7 180.88,636.4 173.3,561.24 165.72,603.21 158.15,581.58 150.58,607.28 143,606.21 135.43,606.21 127.85,624.62 120.28,609.42 112.7,596.57 105.12,576.23 97.55,625.69 89.97,613.7 82.4,601.93 74.83,575.59 67.25,589.08 59.68,620.34 52.1,606.21" fill="#0000FF" fill-opacity="0.1"/>
<line x1="43.45" x2="234.5" y1="575.6" y2="575.6" stroke="#000" stroke-width="1.8" stroke-dasharray="6.175 6.175"/>
<line x1="89.97" x2="89.97" y1="643" y2="497" stroke="#000" stroke-width="1.8" stroke-dasharray="6.175 6.175"/>
<polyline points="52.1,582.22 59.68,595.07 67.25,565.52 74.83,575.59 82.4,576.87 89.97,589.51 97.55,599.36 105.12,550.53 112.7,571.95 120.28,584.37 127.85,597.64 135.43,580.51 143,579.44 150.58,581.58 158.15,552.25 165.72,573.02 173.3,534.69 180.88,608.35 188.45,583.72 196.03,580.08 203.6,589.72 211.18,581.58 218.75,595.5 226.32,563.38" fill="none" stroke="#0000FF" stroke-width="3.5" stroke-linejoin="round" stroke-linecap="butt"/>
</g>
<rect x="43.45" y="497" width="191.05" height="146" fill="none" stroke="#333333" stroke-width="1.25"/>
<rect x="43.45" y="447.55" width="191.05" height="49.45" fill="#D9D9D9" stroke="#333333" stroke-width="1.25"/>
<line x1="43.45" x2="234.5" y1="471.6" y2="471.6" stroke="#333333" stroke-width="1.25"/>
<line x1="43.45" x2="234.5" y1="472.5" y2="472.5" stroke="#333333" stroke-width="1.25"/>
<line x1="43.45" x2="234.5" y1="496.6" y2="496.6" stroke="#333333" stroke-width="1.25"/>
<line x1="43.45" x2="234.5" y1="497.3" y2="497.3" stroke="#333333" stroke-width="1.25"/>
<text x="138.97" y="464.45" class="s">High</text>
<text x="138.97" y="489.12" class="s">Mortality</text>
<line x1="38.85" x2="43.45" y1="516.4" y2="516.4" stroke="#333333" stroke-width="1.6"/>
<text x="36.15" y="521.15" class="ay">2</text>
<line x1="38.85" x2="43.45" y1="546" y2="546" stroke="#333333" stroke-width="1.6"/>
<text x="36.15" y="550.75" class="ay">1</text>
<line x1="38.85" x2="43.45" y1="575.6" y2="575.6" stroke="#333333" stroke-width="1.6"/>
<text x="36.15" y="580.35" class="ay">0</text>
<line x1="38.85" x2="43.45" y1="605.2" y2="605.2" stroke="#333333" stroke-width="1.6"/>
<text x="36.15" y="609.95" class="ay"><tspan dy="0.9">−</tspan><tspan dy="-0.9">1</tspan></text>
<line x1="38.85" x2="43.45" y1="634.8" y2="634.8" stroke="#333333" stroke-width="1.6"/>
<text x="36.15" y="639.55" class="ay"><tspan dy="0.9">−</tspan><tspan dy="-0.9">2</tspan></text>
<line x1="52.1" x2="52.1" y1="643" y2="647.8" stroke="#333333" stroke-width="1.6"/>
<text x="52.1" y="660.5" class="ax"><tspan dy="0.9">−</tspan><tspan dy="-0.9">5</tspan></text>
<line x1="89.97" x2="89.97" y1="643" y2="647.8" stroke="#333333" stroke-width="1.6"/>
<text x="89.97" y="660.5" class="ax">0</text>
<line x1="127.85" x2="127.85" y1="643" y2="647.8" stroke="#333333" stroke-width="1.6"/>
<text x="127.85" y="660.5" class="ax">5</text>
<line x1="165.72" x2="165.72" y1="643" y2="647.8" stroke="#333333" stroke-width="1.6"/>
<text x="165.72" y="660.5" class="ax">10</text>
<line x1="203.6" x2="203.6" y1="643" y2="647.8" stroke="#333333" stroke-width="1.6"/>
<text x="203.6" y="660.5" class="ax">15</text>
<clipPath id="c21"><rect x="265" y="497" width="191" height="146"/></clipPath>
<g clip-path="url(#c21)">
<line x1="265" x2="456" y1="636.6" y2="636.6" stroke="#EBEBEB" stroke-width="1.2"/>
<line x1="265" x2="456" y1="617.6" y2="617.6" stroke="#EBEBEB" stroke-width="0.75"/>
<line x1="265" x2="456" y1="598.6" y2="598.6" stroke="#EBEBEB" stroke-width="1.2"/>
<line x1="265" x2="456" y1="579.6" y2="579.6" stroke="#EBEBEB" stroke-width="0.75"/>
<line x1="265" x2="456" y1="560.6" y2="560.6" stroke="#EBEBEB" stroke-width="1.2"/>
<line x1="265" x2="456" y1="541.6" y2="541.6" stroke="#EBEBEB" stroke-width="0.75"/>
<line x1="265" x2="456" y1="522.6" y2="522.6" stroke="#EBEBEB" stroke-width="1.2"/>
<line x1="265" x2="456" y1="503.6" y2="503.6" stroke="#EBEBEB" stroke-width="0.75"/>
<line x1="273.5" x2="273.5" y1="497" y2="643" stroke="#EBEBEB" stroke-width="1.2"/>
<line x1="292.44" x2="292.44" y1="497" y2="643" stroke="#EBEBEB" stroke-width="0.75"/>
<line x1="311.38" x2="311.38" y1="497" y2="643" stroke="#EBEBEB" stroke-width="1.2"/>
<line x1="330.31" x2="330.31" y1="497" y2="643" stroke="#EBEBEB" stroke-width="0.75"/>
<line x1="349.25" x2="349.25" y1="497" y2="643" stroke="#EBEBEB" stroke-width="1.2"/>
<line x1="368.19" x2="368.19" y1="497" y2="643" stroke="#EBEBEB" stroke-width="0.75"/>
<line x1="387.12" x2="387.12" y1="497" y2="643" stroke="#EBEBEB" stroke-width="1.2"/>
<line x1="406.06" x2="406.06" y1="497" y2="643" stroke="#EBEBEB" stroke-width="0.75"/>
<line x1="425" x2="425" y1="497" y2="643" stroke="#EBEBEB" stroke-width="1.2"/>
<line x1="443.94" x2="443.94" y1="497" y2="643" stroke="#EBEBEB" stroke-width="0.75"/>
<polygon points="273.5,525.91 281.07,544.11 288.65,519.27 296.23,560.6 303.8,536.61 311.38,533.4 318.95,567.66 326.52,573.02 334.1,549.46 341.68,551.6 349.25,529.12 356.82,532.33 364.4,520.98 371.98,551.6 379.55,533.4 387.12,539.83 394.7,536.61 402.27,537.69 409.85,525.69 417.43,539.83 425,516.06 432.58,530.19 440.15,510.28 447.73,529.12 447.73,601.93 440.15,582.65 432.58,602.14 425,583.72 417.43,610.06 409.85,594.43 402.27,604.07 394.7,605.14 387.12,606.21 379.55,597.64 371.98,620.34 364.4,588.01 356.82,594.43 349.25,594.43 341.68,613.7 334.1,609.42 326.52,636.19 318.95,628.69 311.38,593.36 303.8,595.5 296.23,560.6 288.65,577.3 281.07,608.56 273.5,588.01" fill="#0000FF" fill-opacity="0.1"/>
<line x1="265" x2="456" y1="560.6" y2="560.6" stroke="#000" stroke-width="1.8" stroke-dasharray="6.175 6.175"/>
<line x1="311.38" x2="311.38" y1="643" y2="497" stroke="#000" stroke-width="1.8" stroke-dasharray="6.175 6.175"/>
<polyline points="273.5,558.03 281.07,577.3 288.65,548.39 296.23,560.6 303.8,565.95 311.38,562.31 318.95,597.64 326.52,606.21 334.1,579.44 341.68,583.08 349.25,561.24 356.82,563.81 364.4,553.75 371.98,586.51 379.55,564.45 387.12,573.02 394.7,570.88 402.27,571.52 409.85,560.6 417.43,575.16 425,549.46 432.58,565.95 440.15,545.18 447.73,565.09" fill="none" stroke="#0000FF" stroke-width="3.5" stroke-linejoin="round" stroke-linecap="butt"/>
</g>
<rect x="265" y="497" width="191" height="146" fill="none" stroke="#333333" stroke-width="1.25"/>
<rect x="265" y="447.55" width="191" height="49.45" fill="#D9D9D9" stroke="#333333" stroke-width="1.25"/>
<line x1="265" x2="456" y1="471.6" y2="471.6" stroke="#333333" stroke-width="1.25"/>
<line x1="265" x2="456" y1="472.5" y2="472.5" stroke="#333333" stroke-width="1.25"/>
<line x1="265" x2="456" y1="496.6" y2="496.6" stroke="#333333" stroke-width="1.25"/>
<line x1="265" x2="456" y1="497.3" y2="497.3" stroke="#333333" stroke-width="1.25"/>
<text x="360.5" y="464.45" class="s">High</text>
<text x="360.5" y="489.12" class="s">Hospitalization</text>
<line x1="260.4" x2="265" y1="522.6" y2="522.6" stroke="#333333" stroke-width="1.6"/>
<text x="257.7" y="527.35" class="ay">1</text>
<line x1="260.4" x2="265" y1="560.6" y2="560.6" stroke="#333333" stroke-width="1.6"/>
<text x="257.7" y="565.35" class="ay">0</text>
<line x1="260.4" x2="265" y1="598.6" y2="598.6" stroke="#333333" stroke-width="1.6"/>
<text x="257.7" y="603.35" class="ay"><tspan dy="0.9">−</tspan><tspan dy="-0.9">1</tspan></text>
<line x1="260.4" x2="265" y1="636.6" y2="636.6" stroke="#333333" stroke-width="1.6"/>
<text x="257.7" y="641.35" class="ay"><tspan dy="0.9">−</tspan><tspan dy="-0.9">2</tspan></text>
<line x1="273.5" x2="273.5" y1="643" y2="647.8" stroke="#333333" stroke-width="1.6"/>
<text x="273.5" y="660.5" class="ax"><tspan dy="0.9">−</tspan><tspan dy="-0.9">5</tspan></text>
<line x1="311.38" x2="311.38" y1="643" y2="647.8" stroke="#333333" stroke-width="1.6"/>
<text x="311.38" y="660.5" class="ax">0</text>
<line x1="349.25" x2="349.25" y1="643" y2="647.8" stroke="#333333" stroke-width="1.6"/>
<text x="349.25" y="660.5" class="ax">5</text>
<line x1="387.12" x2="387.12" y1="643" y2="647.8" stroke="#333333" stroke-width="1.6"/>
<text x="387.12" y="660.5" class="ax">10</text>
<line x1="425" x2="425" y1="643" y2="647.8" stroke="#333333" stroke-width="1.6"/>
<text x="425" y="660.5" class="ax">15</text>
<clipPath id="c22"><rect x="494" y="497" width="190.8" height="146"/></clipPath>
<g clip-path="url(#c22)">
<line x1="494" x2="684.8" y1="635.9" y2="635.9" stroke="#EBEBEB" stroke-width="0.75"/>
<line x1="494" x2="684.8" y1="620.2" y2="620.2" stroke="#EBEBEB" stroke-width="1.2"/>
<line x1="494" x2="684.8" y1="604.5" y2="604.5" stroke="#EBEBEB" stroke-width="0.75"/>
<line x1="494" x2="684.8" y1="588.8" y2="588.8" stroke="#EBEBEB" stroke-width="1.2"/>
<line x1="494" x2="684.8" y1="573.1" y2="573.1" stroke="#EBEBEB" stroke-width="0.75"/>
<line x1="494" x2="684.8" y1="557.4" y2="557.4" stroke="#EBEBEB" stroke-width="1.2"/>
<line x1="494" x2="684.8" y1="541.7" y2="541.7" stroke="#EBEBEB" stroke-width="0.75"/>
<line x1="494" x2="684.8" y1="526" y2="526" stroke="#EBEBEB" stroke-width="1.2"/>
<line x1="494" x2="684.8" y1="510.3" y2="510.3" stroke="#EBEBEB" stroke-width="0.75"/>
<line x1="502.1" x2="502.1" y1="497" y2="643" stroke="#EBEBEB" stroke-width="1.2"/>
<line x1="521.04" x2="521.04" y1="497" y2="643" stroke="#EBEBEB" stroke-width="0.75"/>
<line x1="539.98" x2="539.98" y1="497" y2="643" stroke="#EBEBEB" stroke-width="1.2"/>
<line x1="558.91" x2="558.91" y1="497" y2="643" stroke="#EBEBEB" stroke-width="0.75"/>
<line x1="577.85" x2="577.85" y1="497" y2="643" stroke="#EBEBEB" stroke-width="1.2"/>
<line x1="596.79" x2="596.79" y1="497" y2="643" stroke="#EBEBEB" stroke-width="0.75"/>
<line x1="615.73" x2="615.73" y1="497" y2="643" stroke="#EBEBEB" stroke-width="1.2"/>
<line x1="634.66" x2="634.66" y1="497" y2="643" stroke="#EBEBEB" stroke-width="0.75"/>
<line x1="653.6" x2="653.6" y1="497" y2="643" stroke="#EBEBEB" stroke-width="1.2"/>
<line x1="672.54" x2="672.54" y1="497" y2="643" stroke="#EBEBEB" stroke-width="0.75"/>
<polygon points="502.1,535.54 509.68,531.26 517.25,541.97 524.83,557.39 532.4,534.9 539.98,504.71 547.55,533.4 555.12,562.31 562.7,561.24 570.27,560.17 577.85,520.55 585.43,529.12 593,535.54 600.58,545.18 608.15,561.24 615.73,520.34 623.3,546.25 630.88,529.12 638.45,503.21 646.03,514.13 653.6,530.19 661.18,517.34 668.75,517.34 676.33,524.84 676.33,605.14 668.75,601.93 661.18,595.5 653.6,606.42 646.03,591.22 638.45,581.58 630.88,601.93 623.3,619.27 615.73,591.22 608.15,637.47 600.58,620.13 593,609.42 585.43,604.07 577.85,593.36 570.27,629.76 562.7,635.12 555.12,632.97 547.55,597.64 539.98,578.37 532.4,603.21 524.83,557.39 517.25,611.78 509.68,600.85 502.1,601.93" fill="#0000FF" fill-opacity="0.1"/>
<line x1="494" x2="684.8" y1="557.4" y2="557.4" stroke="#000" stroke-width="1.8" stroke-dasharray="6.175 6.175"/>
<line x1="539.98" x2="539.98" y1="643" y2="497" stroke="#000" stroke-width="1.8" stroke-dasharray="6.175 6.175"/>
<polyline points="502.1,569.38 509.68,565.52 517.25,577.3 524.83,557.39 532.4,569.38 539.98,544.54 547.55,561.24 555.12,598.07 562.7,598.07 570.27,595.07 577.85,556.53 585.43,566.59 593,571.95 600.58,581.58 608.15,598.07 615.73,555.24 623.3,583.08 630.88,565.52 638.45,541.97 646.03,553.1 653.6,568.73 661.18,555.89 668.75,559.1 676.33,565.95" fill="none" stroke="#0000FF" stroke-width="3.5" stroke-linejoin="round" stroke-linecap="butt"/>
</g>
<rect x="494" y="497" width="190.8" height="146" fill="none" stroke="#333333" stroke-width="1.25"/>
<rect x="494" y="447.55" width="190.8" height="49.45" fill="#D9D9D9" stroke="#333333" stroke-width="1.25"/>
<line x1="494" x2="684.8" y1="471.6" y2="471.6" stroke="#333333" stroke-width="1.25"/>
<line x1="494" x2="684.8" y1="472.5" y2="472.5" stroke="#333333" stroke-width="1.25"/>
<line x1="494" x2="684.8" y1="496.6" y2="496.6" stroke="#333333" stroke-width="1.25"/>
<line x1="494" x2="684.8" y1="497.3" y2="497.3" stroke="#333333" stroke-width="1.25"/>
<text x="589.4" y="464.45" class="s">High</text>
<text x="589.4" y="489.12" class="s">Hospitalization before death</text>
<line x1="489.4" x2="494" y1="526" y2="526" stroke="#333333" stroke-width="1.6"/>
<text x="486.7" y="530.75" class="ay">10</text>
<line x1="489.4" x2="494" y1="557.4" y2="557.4" stroke="#333333" stroke-width="1.6"/>
<text x="486.7" y="562.15" class="ay">0</text>
<line x1="489.4" x2="494" y1="588.8" y2="588.8" stroke="#333333" stroke-width="1.6"/>
<text x="486.7" y="593.55" class="ay"><tspan dy="0.9">−</tspan><tspan dy="-0.9">10</tspan></text>
<line x1="489.4" x2="494" y1="620.2" y2="620.2" stroke="#333333" stroke-width="1.6"/>
<text x="486.7" y="624.95" class="ay"><tspan dy="0.9">−</tspan><tspan dy="-0.9">20</tspan></text>
<line x1="502.1" x2="502.1" y1="643" y2="647.8" stroke="#333333" stroke-width="1.6"/>
<text x="502.1" y="660.5" class="ax"><tspan dy="0.9">−</tspan><tspan dy="-0.9">5</tspan></text>
<line x1="539.98" x2="539.98" y1="643" y2="647.8" stroke="#333333" stroke-width="1.6"/>
<text x="539.98" y="660.5" class="ax">0</text>
<line x1="577.85" x2="577.85" y1="643" y2="647.8" stroke="#333333" stroke-width="1.6"/>
<text x="577.85" y="660.5" class="ax">5</text>
<line x1="615.73" x2="615.73" y1="643" y2="647.8" stroke="#333333" stroke-width="1.6"/>
<text x="615.73" y="660.5" class="ax">10</text>
<line x1="653.6" x2="653.6" y1="643" y2="647.8" stroke="#333333" stroke-width="1.6"/>
<text x="653.6" y="660.5" class="ax">15</text>
<text transform="translate(364.3,678.4) scale(1,0.95)" x="0" y="0" class="t" text-anchor="middle">Relative month</text>
<text transform="translate(13.9,346.4) rotate(-90)" x="0" y="0" class="t" text-anchor="middle">Percentage points</text>
</svg>
</body></html>
